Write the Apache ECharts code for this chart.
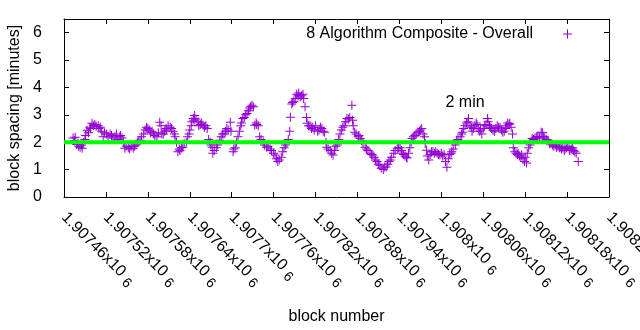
<!DOCTYPE html>
<html>
<head>
<meta charset="utf-8">
<script src="https://cdn.jsdelivr.net/npm/echarts@6/dist/echarts.min.js"></script>
<style>
  html, body { margin: 0; padding: 0; background: #fff; }
  #chart { width: 640px; height: 330px; }
</style>
</head>
<body>
<div id="chart"></div>
<script>
// Block heights and the averaged spacing (minutes) at each block
const blockNumbers = [
  1907473,1907475,1907476,1907478,1907480,1907481,1907483,1907485,1907486,1907488,
  1907490,1907491,1907493,1907495,1907497,1907498,1907500,1907502,1907504,1907506,
  1907509,1907510,1907512,1907514,1907516,1907518,1907521,1907523,1907526,1907528,
  1907530,1907533,1907535,1907537,1907540,1907541,1907543,1907545,1907547,1907549,
  1907552,1907554,1907556,1907559,1907561,1907563,1907565,1907567,1907569,1907571,
  1907574,1907576,1907578,1907580,1907582,1907584,1907586,1907588,1907590,1907593,
  1907595,1907597,1907599,1907600,1907602,1907604,1907606,1907607,1907609,1907612,
  1907614,1907616,1907618,1907619,1907621,1907623,1907625,1907626,1907628,1907630,
  1907632,1907635,1907637,1907639,1907640,1907642,1907643,1907645,1907646,1907647,
  1907649,1907652,1907653,1907655,1907657,1907659,1907661,1907663,1907665,1907667,
  1907669,1907670,1907672,1907673,1907675,1907678,1907680,1907683,1907685,1907687,
  1907689,1907691,1907693,1907695,1907698,1907699,1907702,1907703,1907705,1907707,
  1907709,1907711,1907713,1907714,1907716,1907718,1907720,1907722,1907724,1907726,
  1907727,1907729,1907731,1907733,1907735,1907736,1907738,1907740,1907742,1907745,
  1907747,1907750,1907752,1907755,1907757,1907760,1907762,1907764,1907766,1907768,
  1907771,1907773,1907775,1907777,1907779,1907781,1907783,1907784,1907786,1907787,
  1907789,1907791,1907793,1907795,1907796,1907798,1907800,1907802,1907803,1907805,
  1907807,1907808,1907810,1907812,1907814,1907816,1907818,1907820,1907823,1907825,
  1907827,1907829,1907831,1907833,1907835,1907836,1907838,1907841,1907843,1907845,
  1907847,1907849,1907851,1907853,1907855,1907857,1907859,1907861,1907863,1907865,
  1907867,1907869,1907872,1907873,1907874,1907876,1907878,1907881,1907882,1907884,
  1907886,1907888,1907891,1907893,1907895,1907898,1907900,1907902,1907904,1907906,
  1907908,1907910,1907912,1907914,1907917,1907919,1907921,1907923,1907925,1907927,
  1907929,1907932,1907934,1907937,1907939,1907941,1907943,1907944,1907946,1907948,
  1907950,1907951,1907953,1907955,1907957,1907958,1907960,1907962,1907964,1907967,
  1907969,1907970,1907972,1907974,1907976,1907977,1907979,1907980,1907982,1907984,
  1907986,1907988,1907990,1907992,1907994,1907996,1907998,1908000,1908002,1908004,
  1908006,1908008,1908010,1908012,1908014,1908015,1908017,1908020,1908022,1908024,
  1908027,1908029,1908030,1908032,1908034,1908036,1908038,1908039,1908041,1908043,
  1908044,1908046,1908048,1908050,1908051,1908053,1908055,1908056,1908058,1908060,
  1908062,1908064,1908066,1908067,1908069,1908070,1908072,1908074,1908076,1908078,
  1908080,1908082,1908084,1908086,1908088,1908090,1908092,1908093,1908095,1908097,
  1908098,1908100,1908102,1908103,1908105,1908107,1908109,1908110,1908112,1908114,
  1908115,1908117,1908119,1908120,1908122,1908123,1908125,1908127,1908128,1908130,
  1908132,1908134,1908136,1908138,1908140,1908141,1908143,1908145,1908146,1908148,
  1908150,1908151,1908153,1908155,1908157,1908159,1908161,1908163,1908165,1908167,
  1908169,1908170,1908172,1908174,1908176,1908177,1908179,1908181,1908183,1908184,
  1908186,1908188,1908189,1908191,1908193,1908196
];

const spacingMinutes = [
  2.15,2.05,2.18,1.92,1.95,1.85,1.82,1.9,1.78,2.0,
  2.1,2.25,2.44,2.35,2.55,2.5,2.69,2.6,2.65,2.58,
  2.6,2.5,2.55,2.4,2.2,2.35,2.3,2.2,2.3,2.25,
  2.15,2.2,2.3,2.1,2.2,2.25,2.15,2.0,1.78,1.85,
  1.8,1.75,1.85,1.78,1.85,1.9,2.0,2.05,2.07,2.2,
  2.3,2.45,2.55,2.5,2.45,2.35,2.4,2.3,2.25,2.2,
  2.35,2.73,2.6,2.3,2.3,2.4,2.5,2.45,2.6,2.55,
  2.5,2.4,2.3,2.2,2.0,1.65,1.75,1.7,1.8,1.82,
  1.95,2.0,2.2,2.3,2.45,2.6,2.75,2.87,2.8,2.98,
  2.85,2.75,2.6,2.65,2.7,2.62,2.55,2.6,2.5,2.1,
  2.0,1.9,1.82,1.6,1.7,1.8,1.9,2.07,2.2,2.3,
  2.3,2.4,2.5,2.45,2.73,2.4,1.65,1.75,1.8,2.0,
  2.2,2.4,2.6,2.7,2.87,2.9,3.0,3.05,3.15,3.25,
  3.3,3.35,3.3,2.62,2.7,2.65,2.6,2.2,2.1,2.0,
  1.9,1.82,1.85,1.75,1.7,1.6,1.53,1.4,1.3,1.35,
  1.45,1.65,1.8,1.9,1.96,2.1,2.4,2.91,3.4,3.45,
  3.5,3.6,3.75,3.7,3.8,3.65,3.7,3.75,3.6,3.3,
  2.9,2.69,2.6,2.6,2.5,2.55,2.45,2.6,2.4,2.45,
  2.55,2.5,2.4,2.36,2.0,1.82,1.75,1.7,1.6,1.53,
  1.7,1.85,1.9,2.1,2.3,2.45,2.55,2.6,2.75,2.87,
  2.85,2.9,3.35,2.8,2.6,2.36,2.3,2.2,2.25,2.14,
  2.05,1.95,1.82,1.75,1.7,1.6,1.55,1.53,1.45,1.35,
  1.3,1.2,1.16,1.05,1.0,1.1,1.1,1.2,1.3,1.35,
  1.45,1.6,1.7,1.78,1.8,1.8,1.7,1.6,1.55,1.5,
  1.45,1.42,1.6,1.8,2.0,2.14,2.2,2.25,2.3,2.36,
  2.4,2.45,2.5,2.3,2.2,1.95,1.71,1.5,1.35,1.55,
  1.65,1.65,1.6,1.65,1.6,1.55,1.53,1.6,1.5,1.55,
  1.3,1.09,1.4,1.55,1.6,1.65,1.75,1.9,2.07,2.1,
  2.2,2.3,2.36,2.5,2.6,2.7,2.75,2.87,2.6,2.55,
  2.4,2.5,2.6,2.7,2.65,2.5,2.4,2.45,2.3,2.5,
  2.6,2.65,2.87,2.75,2.6,2.55,2.5,2.44,2.4,2.5,
  2.6,2.55,2.55,2.45,2.36,2.4,2.5,2.6,2.7,2.65,
  2.69,2.55,2.3,1.8,1.65,1.6,1.55,1.6,1.5,1.45,
  1.53,1.4,1.3,1.45,1.24,1.6,1.8,1.9,2.0,2.14,
  2.1,2.15,2.2,2.2,2.15,2.2,2.36,2.35,2.2,2.15,
  2.1,2.05,2.07,1.95,1.95,1.9,1.85,1.9,1.82,1.85,
  1.8,1.82,1.75,1.8,1.7,1.75,1.8,1.85,1.75,1.7,
  1.75,1.8,1.7,1.65,1.6,1.3
];

// Axis ranges and the target-spacing reference
const xRange = [1907460, 1908240];
const xStep = 60;
const yRange = [0, 6.5];
const targetMinutes = 2;
const targetLabel = '2 min';
const targetLabelAt = [1908034, 3.45];
const seriesName = '8 Algorithm Composite - Overall';

const FONT = '"Liberation Sans", Arial, sans-serif';
const PURPLE = '#9400d3';
const GREEN = '#00ff00';
const PLUS = 'path://M4,0H5V4H9V5H5V9H4V5H0V4H4Z';

const points = blockNumbers.map((b, i) => [b, spacingMinutes[i]]);

// Tick text like "1.90746x10 6" with the exponent set slightly smaller and lower
function xTickText(v) {
  return '{m|' + String(+(v / 1e6).toFixed(5)) + 'x10}{s|6}';
}

const frameLine = { show: true, onZero: false, lineStyle: { color: '#000', width: 1 } };
const innerTick = { show: true, inside: true, length: 5, lineStyle: { color: '#000' } };

const chart = echarts.init(document.getElementById('chart'), null, { renderer: 'canvas' });
chart.setOption({
  animation: false,
  backgroundColor: '#fff',
  textStyle: { fontFamily: FONT },
  grid: { left: 64, right: 31, top: 19, bottom: 133, containLabel: false, outerBoundsMode: 'none' },
  legend: {
    data: [seriesName],
    right: 63,
    top: 21,
    align: 'right',
    itemWidth: 9,
    itemHeight: 9,
    icon: PLUS,
    selectedMode: false,
    textStyle: { fontSize: 16, fontFamily: FONT, color: '#000', padding: [0, 25, 0, 0] }
  },
  xAxis: [
    {
      type: 'value', position: 'bottom',
      min: xRange[0], max: xRange[1], interval: xStep,
      name: 'block number', nameLocation: 'middle', nameGap: 112,
      nameTextStyle: { fontSize: 16, color: '#000', fontFamily: FONT },
      axisLine: frameLine, axisTick: innerTick, splitLine: { show: false },
      axisLabel: {
        rotate: -45, margin: 18, fontSize: 16, color: '#000', fontFamily: FONT,
        formatter: xTickText, showMinLabel: true, showMaxLabel: true, hideOverlap: false,
        rich: {
          m: { fontSize: 16, color: '#000', fontFamily: FONT },
          s: { fontSize: 14, color: '#000', fontFamily: FONT, padding: [8, 0, 0, 5] }
        }
      }
    },
    {
      type: 'value', position: 'top',
      min: xRange[0], max: xRange[1], interval: xStep,
      axisLine: frameLine, axisTick: innerTick, splitLine: { show: false },
      axisLabel: { show: false }
    }
  ],
  yAxis: [
    {
      type: 'value', position: 'left',
      min: yRange[0], max: yRange[1], interval: 1,
      name: 'block spacing [minutes]', nameLocation: 'middle', nameGap: 40,
      nameTextStyle: { fontSize: 16, color: '#000', fontFamily: FONT },
      axisLine: frameLine, axisTick: innerTick, splitLine: { show: false },
      axisLabel: {
        margin: 22, fontSize: 16, color: '#000', fontFamily: FONT,
        formatter: v => (v % 1 === 0 ? String(v) : '')
      }
    },
    {
      type: 'value', position: 'right',
      min: yRange[0], max: yRange[1], interval: 1,
      axisLine: frameLine, axisTick: innerTick, splitLine: { show: false },
      axisLabel: { show: false }
    }
  ],
  series: [
    {
      name: seriesName,
      type: 'scatter',
      xAxisIndex: 0, yAxisIndex: 0,
      data: points,
      symbol: PLUS,
      symbolSize: 9,
      itemStyle: { color: PURPLE, opacity: 1 },
      emphasis: { disabled: true },
      z: 2
    },
    {
      name: 'target',
      type: 'line',
      xAxisIndex: 0, yAxisIndex: 0,
      data: [[xRange[0], targetMinutes], [xRange[1], targetMinutes]],
      symbol: 'none',
      lineStyle: { color: GREEN, width: 4 },
      emphasis: { disabled: true },
      z: 3,
      markPoint: {
        symbol: 'rect', symbolSize: 0,
        data: [{ coord: targetLabelAt }],
        label: {
          show: true, position: 'inside', formatter: targetLabel,
          fontSize: 16, color: '#000', fontFamily: FONT
        }
      }
    }
  ]
});
</script>
</body>
</html>
